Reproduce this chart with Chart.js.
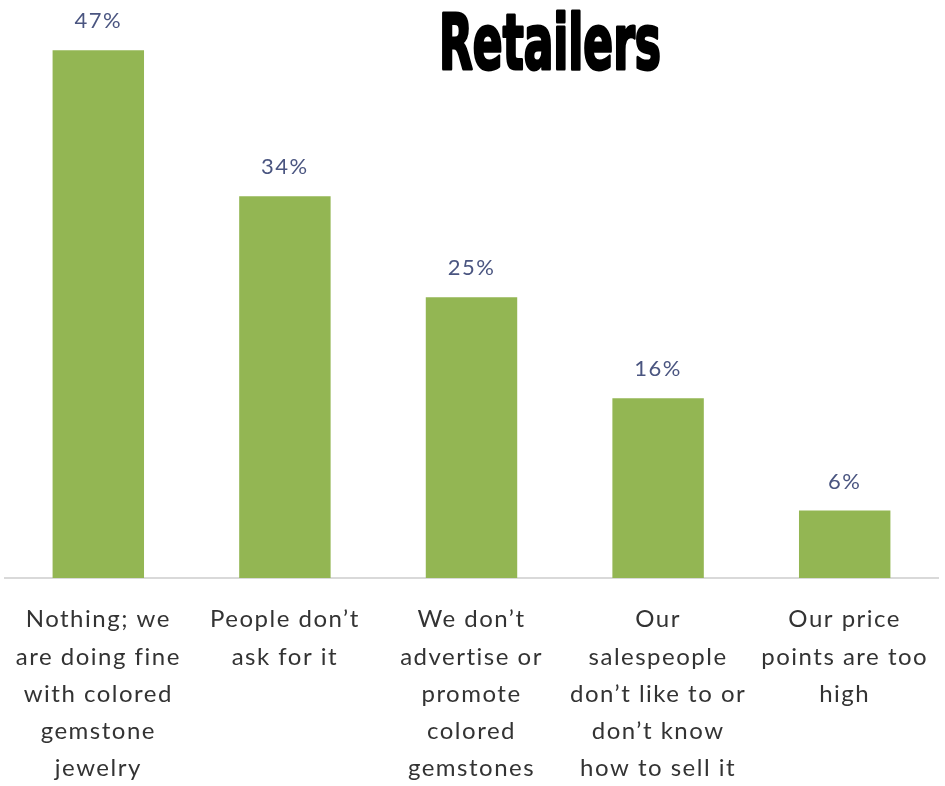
<!DOCTYPE html>
<html>
<head>
<meta charset="utf-8">
<script src="https://cdn.jsdelivr.net/npm/chart.js@4/dist/chart.umd.min.js"></script>
<style>
  html, body { margin: 0; padding: 0; background: #ffffff; }
  #wrap { width: 945px; height: 786px; position: relative; }
</style>
</head>
<body>
<div id="wrap"><canvas id="chart"></canvas></div>
<script>
// survey answers (multi-line labels) and share of retailers
const categories = [
    ['Nothing; we', 'are doing fine', 'with colored', 'gemstone', 'jewelry'],
    ['People don\u2019t', 'ask for it'],
    ['We don\u2019t', 'advertise or', 'promote', 'colored', 'gemstones'],
    ['Our', 'salespeople', 'don\u2019t like to or', 'don\u2019t know', 'how to sell it'],
    ['Our price', 'points are too', 'high']
];
const shares = [47, 34, 25, 16, 6];
const chartTitle = 'Retailers';

// wider tracking for the axis text
const tracking = {
    id: 'tracking',
    beforeDraw(chart) {
        chart.ctx.letterSpacing = '1.5px';
    }
};

// draws the percentage above each bar
const valueLabels = {
    id: 'valueLabels',
    afterDatasetsDraw(chart) {
        const ctx = chart.ctx;
        const meta = chart.getDatasetMeta(0);
        ctx.save();
        ctx.letterSpacing = '1.5px';
        ctx.font = '22px Lato, "Open Sans", sans-serif';
        ctx.fillStyle = '#4a5580';
        ctx.textAlign = 'center';
        ctx.textBaseline = 'middle';
        meta.data.forEach((bar, i) => {
            ctx.fillText(shares[i] + '%', bar.x, bar.y - 29);
        });
        ctx.restore();
    }
};

// heavy condensed title, squeezed horizontally
const condensedTitle = {
    id: 'condensedTitle',
    afterDraw(chart) {
        const ctx = chart.ctx;
        ctx.save();
        ctx.letterSpacing = '0px';
        ctx.font = 'bold 76px "Liberation Sans Narrow", "DejaVu Sans Condensed", sans-serif';
        ctx.fillStyle = '#000000';
        ctx.strokeStyle = '#000000';
        ctx.lineWidth = 3;
        ctx.lineJoin = 'round';
        ctx.textBaseline = 'alphabetic';
        const w = ctx.measureText(chartTitle).width;
        const target = 222;
        ctx.translate(550, 69);
        ctx.scale(target / w, 1);
        ctx.textAlign = 'center';
        ctx.fillText(chartTitle, 0, 0);
        ctx.strokeText(chartTitle, 0, 0);
        ctx.restore();
    }
};

new Chart(document.getElementById('chart'), {
    type: 'bar',
    data: {
        labels: categories,
        datasets: [{
            data: shares,
            backgroundColor: '#93b653',
            borderWidth: 0,
            barPercentage: 0.7,
            categoryPercentage: 0.7
        }]
    },
    options: {
        responsive: true,
        maintainAspectRatio: false,
        animation: false,
        layout: { padding: { top: 16.5, left: 5, right: 7, bottom: 0 } },
        plugins: {
            legend: { display: false },
            tooltip: { enabled: false },
            title: { display: false }
        },
        scales: {
            x: {
                grid: { display: false, drawTicks: false },
                border: { display: true, color: '#d9d9d9', width: 2 },
                ticks: {
                    color: '#333333',
                    font: { family: 'Lato, "Open Sans", sans-serif', size: 24, lineHeight: 1.55 },
                    padding: 23,
                    maxRotation: 0,
                    autoSkip: false
                },
                afterFit(scale) { scale.height = 208; }
            },
            y: {
                display: false,
                min: 0,
                max: 50
            }
        }
    },
    plugins: [tracking, valueLabels, condensedTitle]
});
</script>
</body>
</html>
